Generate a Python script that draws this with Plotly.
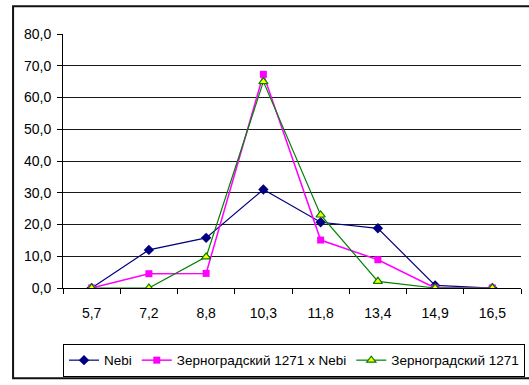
import plotly.graph_objects as go

# Categories along the horizontal axis
categories = ["5,7", "7,2", "8,8", "10,3", "11,8", "13,4", "14,9", "16,5"]

# Series values (%)
nebi = [0.0, 12.0, 15.8, 31.0, 20.7, 18.8, 0.8, 0.0]
zern_x_nebi = [0.0, 4.5, 4.6, 67.3, 15.1, 8.9, 0.0, 0.0]
zern_1271 = [0.0, 0.0, 9.8, 65.0, 23.0, 2.1, 0.0, 0.0]

names = ["Nebi", "Зерноградский 1271 x Nebi", "Зерноградский 1271"]

fig = go.Figure()
fig.add_trace(go.Scatter(
    x=categories, y=nebi, name=names[0], mode="lines+markers",
    line=dict(color="#000080", width=1.2),
    marker=dict(symbol="diamond", size=8, color="#000080"),
))
fig.add_trace(go.Scatter(
    x=categories, y=zern_x_nebi, name=names[1], mode="lines+markers",
    line=dict(color="#FF00FF", width=1.5),
    marker=dict(symbol="square", size=7, color="#FF00FF"),
))
fig.add_trace(go.Scatter(
    x=categories, y=zern_1271, name=names[2], mode="lines+markers",
    line=dict(color="#008000", width=1.2),
    marker=dict(symbol="triangle-up", size=8, color="#FFFF00",
                line=dict(color="#008000", width=1.2)),
))

font = dict(family="Liberation Sans, Arial, sans-serif", size=14, color="#000000")
legend_font = dict(family="Liberation Sans, Arial, sans-serif", size=13.5, color="#000000")

fig.update_layout(
    width=529, height=385,
    margin=dict(l=63, r=8, t=34, b=95),
    paper_bgcolor="white", plot_bgcolor="white",
    separators=", ",
    font=font,
    showlegend=True,
    legend=dict(
        orientation="h", x=0.0, xanchor="left", y=-0.22, yanchor="top",
        bordercolor="#000000", borderwidth=1, font=legend_font,
        itemwidth=30, tracegroupgap=0, itemclick=False,
    ),
    xaxis=dict(
        type="category", tickson="boundaries", ticks="outside", ticklen=5,
        tickcolor="#000000", showline=True, linecolor="#000000", linewidth=1,
        showgrid=False, zeroline=False, ticklabelstandoff=12,
        range=[-0.5, 7.5], automargin=False,
    ),
    yaxis=dict(
        range=[0, 80], dtick=10, tickformat=".1f", ticks="outside", ticklen=5,
        tickcolor="#000000", showline=True, linecolor="#000000", linewidth=1,
        showgrid=True, gridcolor="#1a1a1a", gridwidth=1, zeroline=False,
        automargin=False, ticklabelstandoff=3,
    ),
    shapes=[dict(
        type="rect", xref="paper", yref="paper",
        x0=-0.109, x1=1.05, y0=-0.355, y1=1.109,
        line=dict(color="#111111", width=2), fillcolor="rgba(0,0,0,0)",
        layer="below",
    )],
)

fig.write_html("out.html")
